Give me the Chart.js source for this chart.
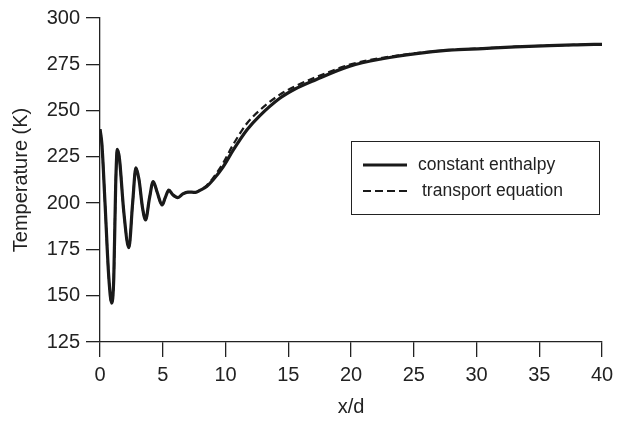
<!DOCTYPE html>
<html>
<head>
<meta charset="utf-8">
<script src="https://cdn.jsdelivr.net/npm/chart.js@4.4.1/dist/chart.umd.min.js"></script>
<style>
    html, body { margin: 0; padding: 0; background: #fff; }
    #wrap { width: 617px; height: 423px; position: relative; }
</style>
</head>
<body>
<div id="wrap"><canvas id="chart"></canvas></div>
<script>
// x/d positions
const xPositions = [0, 0.15, 0.4, 0.7, 0.93, 1.1, 1.25, 1.38, 1.55, 1.9, 2.3, 2.6, 2.86, 3.1, 3.4, 3.63, 3.95, 4.24, 4.55, 4.95, 5.2, 5.48, 5.8, 6.2, 6.6, 7.0, 7.6, 8.0, 8.5, 9.0, 9.8, 10.6, 11.7, 12.7, 14.3, 15.5, 17.2, 19.9, 22.5, 25.2, 27.8, 30.5, 33.1, 35.8, 38, 40];
const constantEnthalpy = [240, 232, 200, 160, 146, 160, 210, 229, 224, 195, 176, 200, 219, 213, 197, 191, 203, 211.7, 206, 199, 203, 207, 204.5, 203, 205, 206, 205.8, 207, 209, 212.5, 219.5, 228.5, 239.5, 247, 256.5, 261.5, 266.7, 274, 278, 280.8, 282.6, 283.5, 284.4, 285.1, 285.5, 285.8];
const transportEquation = [240, 232, 200, 160, 146, 160, 210, 229, 224, 195, 176, 200, 219, 213, 197, 191, 203, 211.7, 206, 199, 203, 207, 204.5, 203, 205, 206, 205.8, 207.2, 209.5, 213.5, 221.5, 231.5, 243, 250, 258.5, 263, 268, 274.8, 278.5, 281, 282.7, 283.6, 284.5, 285.1, 285.5, 285.8];
const xTicks = [0, 5, 10, 15, 20, 25, 30, 35, 40];
const yTicks = [125, 150, 175, 200, 225, 250, 275, 300];

const FONT = '"Liberation Sans", Arial, sans-serif';

function toPoints(ys) {
    return xPositions.map((x, i) => ({ x: x, y: ys[i] }));
}

// legend box drawn inside the plot, like the original figure
const boxLegend = {
    id: 'boxLegend',
    afterDraw(chart) {
        const ctx = chart.ctx;
        const area = chart.chartArea;
        const left = area.left + 251;
        const top = area.top + 123;
        const w = 248;
        const h = 73;
        ctx.save();
        ctx.fillStyle = '#fff';
        ctx.fillRect(left, top, w, h);
        ctx.strokeStyle = '#222';
        ctx.lineWidth = 1;
        ctx.strokeRect(left + 0.5, top + 0.5, w, h);
        ctx.font = '17.5px ' + FONT;
        ctx.textBaseline = 'middle';
        ctx.fillStyle = '#222';
        const rows = [24, 50];
        const textX = [67, 71];
        chart.data.datasets.forEach((ds, i) => {
            const y = top + rows[i];
            ctx.beginPath();
            ctx.setLineDash(ds.borderDash ? [8, 4] : []);
            ctx.lineWidth = ds.borderWidth;
            ctx.strokeStyle = ds.borderColor;
            ctx.moveTo(left + 12, y);
            ctx.lineTo(left + 56, y);
            ctx.stroke();
            ctx.setLineDash([]);
            ctx.fillText(ds.label, left + textX[i], y);
        });
        ctx.restore();
    }
};

new Chart(document.getElementById('chart'), {
    type: 'line',
    data: {
        datasets: [
            {
                label: 'constant enthalpy',
                data: toPoints(constantEnthalpy),
                borderColor: '#1a1a1a',
                borderWidth: 3.2,
                pointRadius: 0,
                cubicInterpolationMode: 'monotone',
                fill: false
            },
            {
                label: 'transport equation',
                data: toPoints(transportEquation),
                borderColor: '#1a1a1a',
                borderWidth: 2.2,
                borderDash: [7, 4],
                pointRadius: 0,
                cubicInterpolationMode: 'monotone',
                fill: false
            }
        ]
    },
    options: {
        responsive: true,
        maintainAspectRatio: false,
        animation: false,
        layout: { padding: { top: 18, right: 15, left: 0, bottom: 0 } },
        plugins: {
            legend: { display: false },
            tooltip: { enabled: false }
        },
        scales: {
            x: {
                type: 'linear',
                min: 0,
                max: 40,
                afterBuildTicks: (scale) => { scale.ticks = xTicks.map(v => ({ value: v })); },
                afterFit: (scale) => { scale.height = 81; scale.paddingRight = 0; },
                border: { display: true, color: '#222', width: 1.3 },
                grid: { drawOnChartArea: false, drawTicks: true, tickLength: 15, color: '#222', lineWidth: 1.3 },
                ticks: { color: '#222', font: { family: FONT, size: 20 }, padding: 6, maxRotation: 0 },
                title: { display: true, text: 'x/d', color: '#222', font: { family: FONT, size: 20 }, padding: { top: 6 } }
            },
            y: {
                min: 125,
                max: 300,
                afterBuildTicks: (scale) => { scale.ticks = yTicks.map(v => ({ value: v })); },
                afterFit: (scale) => { scale.width = 100; },
                border: { display: true, color: '#222', width: 1.3 },
                grid: { drawOnChartArea: false, drawTicks: true, tickLength: 14, color: '#222', lineWidth: 1.3 },
                ticks: { color: '#222', font: { family: FONT, size: 20 }, padding: 6 },
                title: { display: true, text: 'Temperature (K)', color: '#222', font: { family: FONT, size: 20 }, padding: { top: 9, bottom: 2 } }
            }
        }
    },
    plugins: [boxLegend]
});
</script>
</body>
</html>
